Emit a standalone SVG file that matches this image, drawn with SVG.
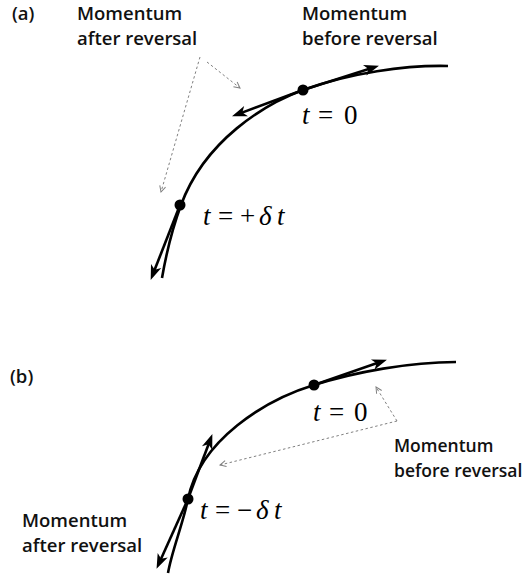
<svg xmlns="http://www.w3.org/2000/svg" width="528" height="579" viewBox="0 0 528 579">
<style>
.lbl{font-family:"Open Sans","Liberation Sans",sans-serif;font-size:18.5px;font-weight:600;fill:#111}
.sm{font-size:17.5px}
.math{font-family:"Liberation Serif","Times New Roman",serif;font-size:27px;fill:#000}
.it{font-style:italic}
.curve{fill:none;stroke:#000;stroke-width:2.6}
.arr{fill:none;stroke:#000;stroke-width:2.6;marker-end:url(#ah)}
.dot{fill:none;stroke:#808080;stroke-width:1;stroke-dasharray:2.5 2.5;marker-end:url(#sh)}
</style>
<defs>
<marker id="ah" markerUnits="userSpaceOnUse" markerWidth="16" markerHeight="12" refX="10" refY="5.5" orient="auto" overflow="visible">
<path d="M0,0 L15,5.5 L0,11 L4,5.5 Z" fill="#000"/>
</marker>
<marker id="sh" markerUnits="userSpaceOnUse" markerWidth="8" markerHeight="8" refX="6" refY="3" orient="auto" overflow="visible">
<path d="M0,0 L6,3 L0,6" fill="none" stroke="#808080" stroke-width="1"/>
</marker>
</defs>
<g id="panel-a">
<text id="label-a" class="lbl" x="12" y="20">(a)</text>
<g id="curve-a"><path class="curve" d="M 448 66 C 405 65, 350 73, 303 90 C 265 104, 205 140, 181 205 C 174 224, 166 255, 162 278"/></g>
<g id="node-a-t0">
<circle cx="303" cy="90" r="5.5" fill="#000"/>
<text class="math"><tspan class="it" x="302" y="124">t</tspan><tspan x="318" y="124">=</tspan><tspan x="344" y="124">0</tspan></text>
</g>
<g id="node-a-tplus">
<circle cx="180" cy="205" r="5.5" fill="#000"/>
<text class="math"><tspan class="it" x="203" y="225">t</tspan><tspan x="218" y="225">=</tspan><tspan x="240" y="225">+</tspan><tspan class="it" x="259" y="225">δ</tspan><tspan class="it" x="277" y="225">t</tspan></text>
</g>
<g id="label-a-after">
<text class="lbl" x="77" y="20">Momentum</text>
<text class="lbl" x="77" y="45">after reversal</text>
</g>
<g id="label-a-before">
<text class="lbl" x="302" y="20">Momentum</text>
<text class="lbl" x="302" y="45">before reversal</text>
</g>
</g>
<g id="panel-b">
<text id="label-b" class="lbl" x="10" y="383">(b)</text>
<g id="curve-b"><path class="curve" d="M 456 362 C 410 362, 355 372, 314 385 C 265 400, 200 440, 188 499 C 183 524, 172 550, 168 573"/></g>
<g id="node-b-t0">
<circle cx="314" cy="385" r="5.5" fill="#000"/>
<text class="math"><tspan class="it" x="313" y="421">t</tspan><tspan x="329" y="421">=</tspan><tspan x="354" y="421">0</tspan></text>
</g>
<g id="node-b-tminus">
<circle cx="188" cy="499" r="5.5" fill="#000"/>
<text class="math"><tspan class="it" x="200" y="519">t</tspan><tspan x="215" y="519">=</tspan><tspan x="237" y="519">−</tspan><tspan class="it" x="256" y="519">δ</tspan><tspan class="it" x="274" y="519">t</tspan></text>
</g>
<g id="label-b-before">
<text class="lbl sm" x="394" y="452">Momentum</text>
<text class="lbl sm" x="394" y="477">before reversal</text>
</g>
<g id="label-b-after">
<text class="lbl" x="22" y="527">Momentum</text>
<text class="lbl" x="22" y="552">after reversal</text>
</g>
</g>
<g id="connectors">
<path class="arr" d="M 303 90 L 374.2 67.2"/>
<path class="arr" d="M 303 90 L 236.7 114.6"/>
<path class="arr" d="M 180 205 L 152.5 275.3"/>
<path class="arr" d="M 314 385 L 382.2 361.3"/>
<path class="arr" d="M 188 499 L 210.6 438.7"/>
<path class="arr" d="M 188 499 L 158.6 564.3"/>
<path class="dot" d="M 200 57 L 161 192"/>
<path class="dot" d="M 207 62 L 240 88"/>
<path class="dot" d="M 397 421 L 376 387"/>
<path class="dot" d="M 397 421 L 220 465"/>
</g>
</svg>
